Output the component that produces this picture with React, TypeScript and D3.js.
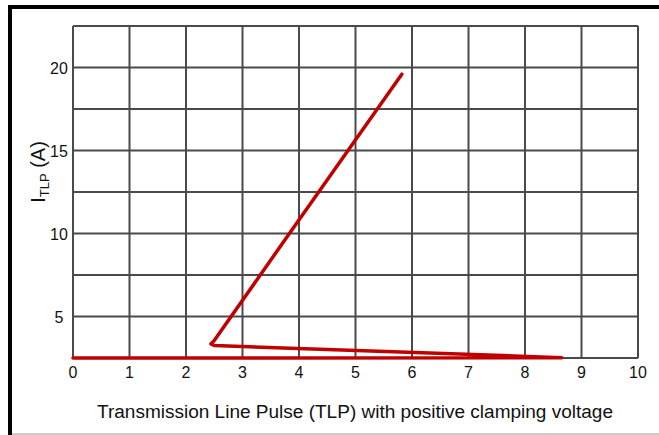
import React from "react";
import * as d3 from "d3";

const xTicks = [0, 1, 2, 3, 4, 5, 6, 7, 8, 9, 10];
const yGrid = [2.5, 5, 7.5, 10, 12.5, 15, 17.5, 20, 22.5];
const yLabels = [5, 10, 15, 20];
const curveV = [0, 8.65, 2.5, 2.44, 2.5, 3.83, 5.82];
const curveI = [2.5, 2.52, 3.25, 3.35, 3.55, 10, 19.6];

const W = 659;
const H = 435;
const M = { left: 73, right: 638, top: 26, bottom: 358 };

export default function App() {
  const x = d3.scaleLinear().domain([0, 10]).range([M.left, M.right]);
  const y = d3.scaleLinear().domain([2.5, 22.5]).range([M.bottom, M.top]);
  const pts: [number, number][] = curveV.map((v, i) => [v, curveI[i]]);
  const line = d3
    .line<[number, number]>()
    .x((d) => x(d[0]))
    .y((d) => y(d[1]));
  const font = "'Liberation Sans', Arial, sans-serif";
  return (
    <div style={{ position: "absolute", left: 0, top: 0 }}>
      <svg width={W} height={H} style={{ display: "block", background: "#fff" }}>
        <rect x={0} y={0} width={W} height={H} fill="#fff" />
        {/* frame */}
        <line x1={10} x2={10} y1={6} y2={H} stroke="#000" strokeWidth={4} />
        <line x1={8} x2={W} y1={7} y2={7} stroke="#000" strokeWidth={4} />
        <line x1={12} x2={W} y1={434} y2={434} stroke="#bbb" strokeWidth={1.5} />
        {/* grid */}
        {xTicks.map((t) => (
          <line key={"gx" + t} x1={x(t)} x2={x(t)} y1={M.top} y2={M.bottom} stroke="#4a4a4a" strokeWidth={2} />
        ))}
        {yGrid.map((t) => (
          <line key={"gy" + t} x1={M.left} x2={M.right} y1={y(t)} y2={y(t)} stroke="#4a4a4a" strokeWidth={2} />
        ))}
        {/* tick labels */}
        {xTicks.map((t) => (
          <text key={"tx" + t} x={x(t)} y={M.bottom + 20} textAnchor="middle" fontFamily={font} fontSize={16} fill="#111">
            {t}
          </text>
        ))}
        {yLabels.map((t) => (
          <text key={"ty" + t} x={M.left - 14} y={y(t) + 6} textAnchor="middle" fontFamily={font} fontSize={16} fill="#111">
            {t}
          </text>
        ))}
        {/* curve */}
        <path d={line(pts) || ""} fill="none" stroke="#c00000" strokeWidth={3.5} strokeLinejoin="round" strokeLinecap="round" />
        {/* axis titles */}
        <text x={97} y={418} textAnchor="start" fontFamily={font} fontSize={18} fill="#111" textLength={516} lengthAdjust="spacingAndGlyphs">
          Transmission Line Pulse (TLP) with positive clamping voltage
        </text>
        <text transform="translate(45,172) rotate(-90)" textAnchor="middle" fontFamily={font} fontSize={20} fill="#111">
          I<tspan fontSize={13} dy={4}>TLP</tspan>
          <tspan dy={-4}> (A)</tspan>
        </text>
      </svg>
    </div>
  );
}
